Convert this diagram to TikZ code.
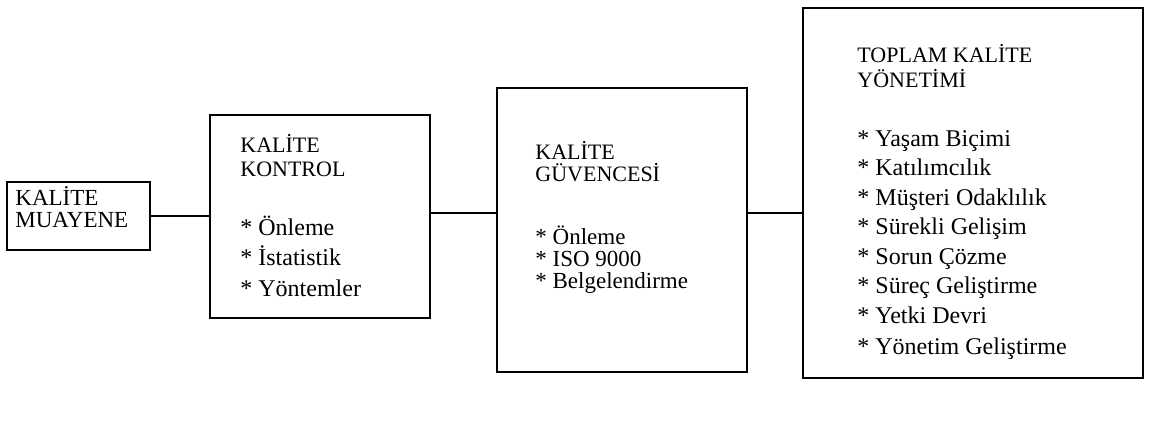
\documentclass[tikz,border=0pt]{standalone}
\usepackage{fontspec}
\setmainfont{Liberation Serif}
\begin{document}
\begin{tikzpicture}[x=0.5pt,y=-0.5pt,
  box/.style={draw,line width=1.1pt,inner sep=0pt},
  conn/.style={line width=1pt},
  txt/.style={anchor=north west,inner sep=0pt,align=left}]
\useasboundingbox (0,0) rectangle (1155,425);
% boxes
\node[box,minimum width=71.5pt,minimum height=34pt] (b1) at (78.5,216) {};
\node[box,minimum width=110pt,minimum height=101.5pt] (b2) at (320,216.5) {};
\node[box,minimum width=125pt,minimum height=142pt] (b3) at (622,230) {};
\node[box,minimum width=170pt,minimum height=185pt] (b4) at (973,193) {};
% connectors
\coordinate (c) at (0,213);
\draw[conn] (b1.east) -- (b1.east -| b2.west);
\draw[conn] (b2.east |- c) -- (b3.west |- c);
\draw[conn] (b3.east |- c) -- (b4.west |- c);
% texts
\node[txt,font=\fontsize{11.5}{11}\selectfont] (t1) at (15,186) {KALİTE\\MUAYENE};
\node[txt,font=\fontsize{11}{12}\selectfont] (t2h) at (240,134) {KALİTE\\KONTROL};
\node[txt,font=\fontsize{12}{14.75}\selectfont] (t2i) at (240,216) {* Önleme\\* İstatistik\\[1pt]* Yöntemler};
\node[txt,font=\fontsize{11}{11}\selectfont] (t3h) at (535,141) {KALİTE\\GÜVENCESİ};
\node[txt,font=\fontsize{11.5}{11}\selectfont] (t3i) at (535,225) {* Önleme\\* ISO 9000\\* Belgelendirme};
\node[txt,font=\fontsize{11}{12.5}\selectfont] (t4h) at (857,44) {TOPLAM KALİTE\\YÖNETİMİ};
\node[txt,font=\fontsize{12}{14.75}\selectfont] (t4i) at (857,130) {* Yaşam Biçimi\\* Katılımcılık\\* Müşteri Odaklılık\\* Sürekli Gelişim\\* Sorun Çözme\\* Süreç Geliştirme\\* Yetki Devri\\[1pt]* Yönetim Geliştirme};
\end{tikzpicture}
\end{document}
